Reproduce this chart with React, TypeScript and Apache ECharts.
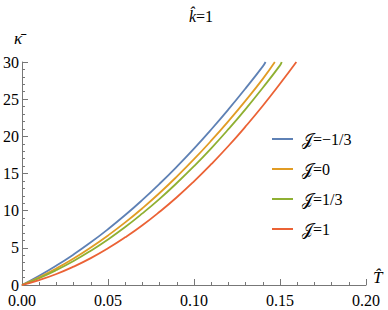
import React, { useEffect, useRef } from "react";
import * as echarts from "echarts";

const seriesNames = ["𝒥=−1/3", "𝒥=0", "𝒥=1/3", "𝒥=1"];
const colors = ["#5E81B5", "#E19C24", "#8FB032", "#EB6235"];

const tBlue = [0, 0.01, 0.02, 0.03, 0.04, 0.05, 0.06, 0.07, 0.08, 0.09, 0.1, 0.11, 0.12, 0.13, 0.14, 0.1416];
const kBlue = [0, 1.24, 2.61, 4.11, 5.74, 7.51, 9.41, 11.45, 13.62, 15.92, 18.35, 20.92, 23.62, 26.45, 29.41, 30];

const tOrange = [0, 0.01, 0.02, 0.03, 0.04, 0.05, 0.06, 0.07, 0.08, 0.09, 0.1, 0.11, 0.12, 0.13, 0.14, 0.147];
const kOrange = [0, 1.04, 2.23, 3.56, 5.04, 6.66, 8.42, 10.33, 12.38, 14.58, 16.92, 19.41, 22.04, 24.81, 27.73, 30];

const tGreen = [0, 0.01, 0.02, 0.03, 0.04, 0.05, 0.06, 0.07, 0.08, 0.09, 0.1, 0.11, 0.12, 0.13, 0.14, 0.15, 0.151];
const kGreen = [0, 0.93, 2.01, 3.23, 4.61, 6.13, 7.8, 9.63, 11.59, 13.72, 15.98, 18.39, 20.96, 23.67, 26.54, 29.55, 30];

const tRed = [0, 0.01, 0.02, 0.03, 0.04, 0.05, 0.06, 0.07, 0.08, 0.09, 0.1, 0.11, 0.12, 0.13, 0.14, 0.15, 0.1595];
const kRed = [0, 0.66, 1.48, 2.47, 3.61, 4.93, 6.41, 8.04, 9.85, 11.81, 13.95, 16.25, 18.7, 21.33, 24.11, 27.07, 30];

const FONT = "Liberation Serif";

function pairs(t: number[], k: number[]) {
  return t.map((v, i) => [v, k[i]]);
}

export default function App() {
  const ref = useRef<HTMLDivElement>(null);
  useEffect(() => {
    if (!ref.current) return;
    const chart = echarts.init(ref.current, null, { renderer: "svg" });
    const data = [pairs(tBlue, kBlue), pairs(tOrange, kOrange), pairs(tGreen, kGreen), pairs(tRed, kRed)];
    const axisLine = { lineStyle: { color: "#777", width: 1 } };
    chart.setOption({
      animation: false,
      backgroundColor: "#fff",
      textStyle: { fontFamily: FONT },
      title: {
        text: "{i|k̂}{n|=1}",
        left: 196,
        top: 3,
        textAlign: "center",
        textStyle: {
          fontFamily: FONT,
          fontSize: 16,
          fontWeight: "normal",
          color: "#000",
          rich: {
            i: { fontFamily: FONT, fontSize: 16, fontStyle: "italic", color: "#000" },
            n: { fontFamily: FONT, fontSize: 16, color: "#000" },
          },
        },
      },
      grid: { left: 20, right: 22, top: 62, bottom: 25, containLabel: false },
      graphic: [
        {
          type: "text",
          left: 14,
          top: 30,
          style: { text: "κ̄", fontFamily: FONT, fontSize: 17, fontStyle: "italic", fill: "#000" },
        },
        {
          type: "text",
          left: 373,
          top: 269,
          style: { text: "T̂", fontFamily: FONT, fontSize: 17, fontStyle: "italic", fill: "#000" },
        },
      ],
      legend: {
        orient: "vertical",
        left: 267,
        top: 126,
        icon: "rect",
        itemWidth: 21,
        itemHeight: 2,
        itemGap: 14,
        data: seriesNames,
        textStyle: { fontFamily: FONT, fontSize: 16, color: "#000", padding: [0, 0, 0, 4] },
      },
      xAxis: {
        type: "value",
        min: 0,
        max: 0.2,
        interval: 0.05,
        axisLine,
        axisTick: { show: true, inside: true, length: 6, lineStyle: { color: "#777" } },
        minorTick: { show: true, splitNumber: 5, length: 3, lineStyle: { color: "#777" } },
        splitLine: { show: false },
        axisLabel: {
          fontFamily: FONT,
          fontSize: 16,
          lineHeight: 13,
          color: "#000",
          margin: 9,
          showMaxLabel: true,
          formatter: (v: number) => v.toFixed(2),
        },
      },
      yAxis: {
        type: "value",
        min: 0,
        max: 30,
        interval: 5,
        axisLine,
        axisTick: { show: true, inside: true, length: 6, lineStyle: { color: "#777" } },
        minorTick: { show: true, splitNumber: 5, length: 3, lineStyle: { color: "#777" } },
        splitLine: { show: false },
        axisLabel: { fontFamily: FONT, fontSize: 16, lineHeight: 12, color: "#000", margin: 3, padding: [0, 0, 3, 0] },
      },
      series: seriesNames.map((name, i) => ({
        name,
        type: "line",
        data: data[i],
        smooth: true,
        symbol: "none",
        showSymbol: false,
        color: colors[i],
        lineStyle: { width: 1.8, color: colors[i] },
      })),
    });
    return () => chart.dispose();
  }, []);
  return <div ref={ref} style={{ position: "fixed", left: 0, top: 0, width: 388, height: 310 }} />;
}
